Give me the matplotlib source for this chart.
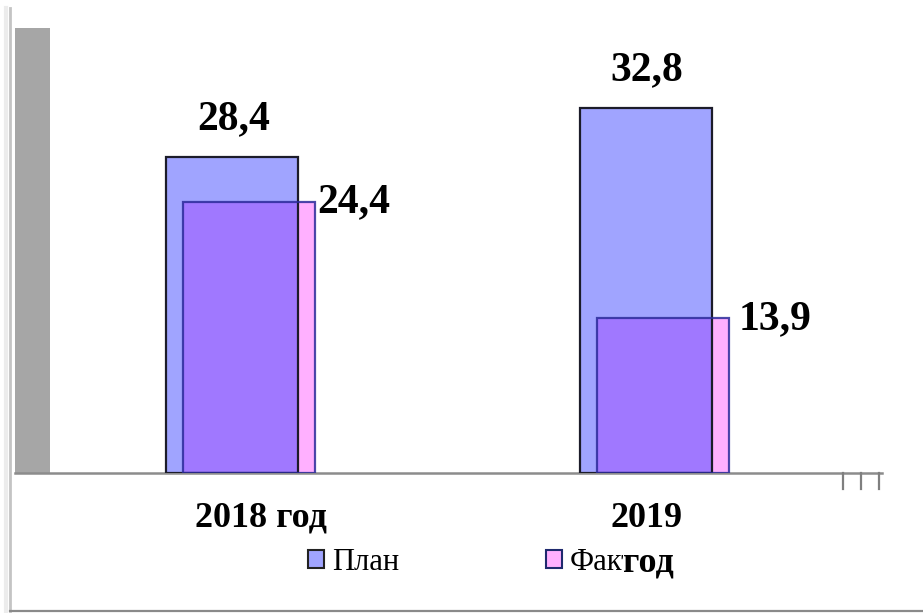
import matplotlib.pyplot as plt
import numpy as np
from matplotlib.lines import Line2D
from matplotlib.patches import Patch, Rectangle

categories = ["2018 год", "2019 год"]
plan = [28.4, 32.8]
fact = [24.4, 13.9]
plan_labels = ["28,4", "32,8"]
fact_labels = ["24,4", "13,9"]
series_names = ["План", "Факт"]

plan_color = "#A0A4FF"
fact_color = "#FFB0FF"
mix_color = "#A078FF"
plan_edge = "#1c1c2a"
fact_edge = "#2b2b9a"

W, H = 923, 613
plt.rcParams["font.family"] = ["Liberation Serif", "DejaVu Serif"]
fig = plt.figure(figsize=(W / 100, H / 100), dpi=100)


def px(x0, y0, x1, y1):
    # pixel box (top-left origin) -> figure fraction rect
    return [x0 / W, 1 - y1 / H, (x1 - x0) / W, (y1 - y0) / H]


ax = fig.add_axes(px(15, 28, 882, 473))
x = np.arange(len(categories))
width = 0.319
shift = 0.0205

# fills first, then the overlap, then outlines on top
ax.bar(x - shift, plan, width, color=plan_color, lw=0, zorder=2)
ax.bar(x + shift, fact, width, color=fact_color, lw=0, zorder=2)
ax.bar(x, np.minimum(plan, fact), width - 2 * shift, color=mix_color, lw=0, zorder=3)
ax.bar(x - shift, plan, width, fill=False, edgecolor=plan_edge, lw=1.6, zorder=4)
ax.bar(x + shift, fact, width, fill=False, edgecolor=fact_edge, lw=1.6, alpha=0.85, zorder=4)

ax.set_xlim(-0.5453, 1.549)
ax.set_ylim(0, 40)
ax.set_xticks([])
ax.set_yticks([])
for s in ["left", "top", "right"]:
    ax.spines[s].set_visible(False)
ax.spines["bottom"].set_color("#8c8c8c")
ax.spines["bottom"].set_linewidth(1.8)

# grey side wall
ax.add_patch(Rectangle((0, 0), 35 / 867, 1, transform=ax.transAxes,
                       color="#A6A6A6", lw=0, zorder=1))

fact_dx = [2, 9]
for i in x:
    ax.annotate(plan_labels[i], (i - shift, plan[i]), xytext=(1, 28),
                textcoords="offset pixels", ha="center", va="baseline",
                fontsize=30, fontweight="bold", zorder=6)
    ax.annotate(fact_labels[i], (i + shift + width / 2, fact[i]), xytext=(fact_dx[i], -11),
                textcoords="offset pixels", ha="left", va="baseline",
                fontsize=30, fontweight="bold", zorder=6)

# category labels
lab_dx = [0.049, -0.021]
xt = ax.get_xaxis_transform()
ax.text(x[0] + lab_dx[0], -0.1213, categories[0], transform=xt, ha="center",
        va="baseline", fontsize=26, fontweight="bold")
first, second = categories[1].split(" ")
ax.text(x[1] + lab_dx[1], -0.1213, first, transform=xt, ha="center",
        va="baseline", fontsize=26, fontweight="bold")

# little ticks at right end of floor
for fx in [843, 861, 879]:
    fig.add_artist(Line2D([fx / W] * 2, [1 - 473 / H, 1 - 489 / H],
                          color="#7f7f7f", lw=1.6))

handles = [Patch(facecolor=plan_color, edgecolor="#222222", lw=1.5),
           Patch(facecolor=fact_color, edgecolor="#1f2a6e", lw=1.5)]
fig.legend(handles, series_names, loc="center left",
           bbox_to_anchor=(308 / W, 1 - 562 / H), ncol=2, frameon=False,
           fontsize=22, handlelength=0.52, handleheight=0.52,
           handletextpad=0.26, columnspacing=4.8, borderpad=0,
           borderaxespad=0)

# second line of the 2019 label overlaps the legend
fig.text(648 / W, 1 - 572 / H, second, ha="center", va="baseline",
         fontsize=26, fontweight="bold", zorder=10,
         bbox=dict(facecolor="white", edgecolor="none", pad=0))

# outer frame
fig.add_artist(Line2D([10 / W] * 2, [1 - 611 / H, 1 - 8 / H], color="#c4c4c4", lw=2))
fig.add_artist(Line2D([6 / W] * 2, [1 - 611 / H, 1 - 8 / H], color="#ececec", lw=3))
fig.add_artist(Line2D([10 / W, 1], [1 - 611 / H] * 2, color="#8a8a8a", lw=1.6))

fig.savefig("out.png", dpi=100)
